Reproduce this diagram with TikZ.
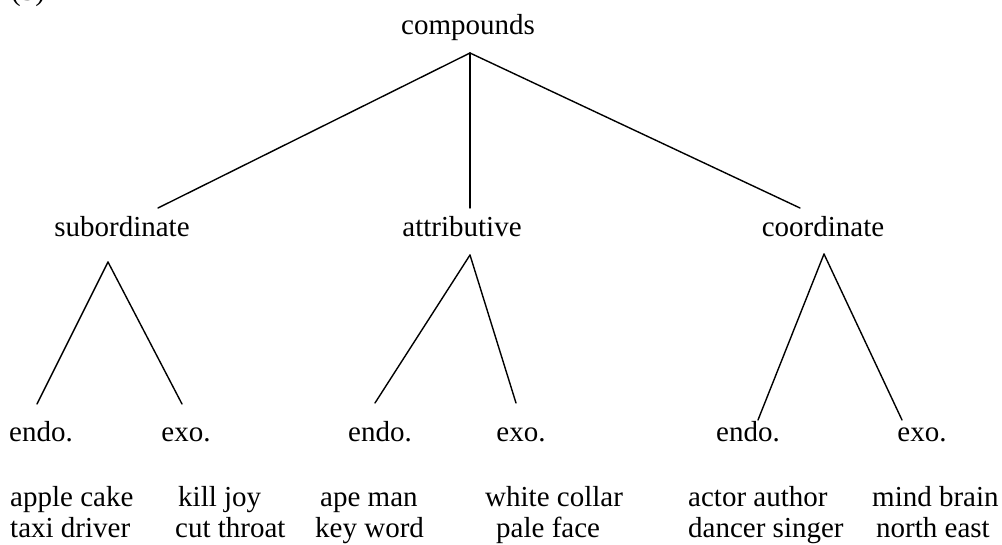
\documentclass[tikz,border=0pt]{standalone}
\usepackage{fontspec}
\setmainfont{Liberation Serif}
\begin{document}
\begin{tikzpicture}[x=1pt,y=-1pt,
  lbl/.style={inner sep=0pt,anchor=base,font=\fontsize{29}{34}\selectfont},
  lbll/.style={lbl,anchor=base west},
  edge/.style={line width=1.4pt,line cap=round}]
\useasboundingbox (0,0) rectangle (1002,545);
% labels
\node[lbll] (five) at (11,1) {(5)};
\node[lbl] (comp) at (468,35) {compounds};
\node[lbl] (sub) at (122,237) {subordinate};
\node[lbl] (att) at (462,237) {attributive};
\node[lbl] (coo) at (823,237) {coordinate};
\node[lbl] (e1) at (41,441) {endo.};
\node[lbl] (x1) at (186,441) {exo.};
\node[lbl] (e2) at (380,441) {endo.};
\node[lbl] (x2) at (521,441) {exo.};
\node[lbl] (e3) at (748,441) {endo.};
\node[lbl] (x3) at (922,441) {exo.};
% examples
\node[lbll] (w1a) at (10,506) {apple cake};
\node[lbll] (w1b) at (10,537) {taxi driver};
\node[lbll] (w2a) at (178,506) {kill joy};
\node[lbll] (w2b) at (175,537) {cut throat};
\node[lbll] (w3a) at (320,506) {ape man};
\node[lbll] (w3b) at (315,537) {key word};
\node[lbll] (w4a) at (485,506) {white collar};
\node[lbll] (w4b) at (496,537) {pale face};
\node[lbll] (w5a) at (688,506) {actor author};
\node[lbll] (w5b) at (688,537) {dancer singer};
\node[lbll] (w6a) at (872,506) {mind brain};
\node[lbll] (w6b) at (876,537) {north east};
% connector points
\coordinate (compA) at (470,53);
\coordinate (subT) at (158,208);
\coordinate (attT) at (470,208);
\coordinate (cooT) at (800,208);
\coordinate (subA) at (108,262);
\coordinate (e1T) at (37,404);
\coordinate (x1T) at (182,404);
\coordinate (attA) at (470,255);
\coordinate (e2T) at (375,403);
\coordinate (x2T) at (516,403);
\coordinate (cooA) at (824,254);
\coordinate (e3T) at (758,420);
\coordinate (x3T) at (902,420);
% connectors
\draw[edge] (compA) -- (subT);
\draw[edge] (compA) -- (attT);
\draw[edge] (compA) -- (cooT);
\draw[edge] (subA) -- (e1T);
\draw[edge] (subA) -- (x1T);
\draw[edge] (attA) -- (e2T);
\draw[edge] (attA) -- (x2T);
\draw[edge] (cooA) -- (e3T);
\draw[edge] (cooA) -- (x3T);
\end{tikzpicture}
\end{document}
